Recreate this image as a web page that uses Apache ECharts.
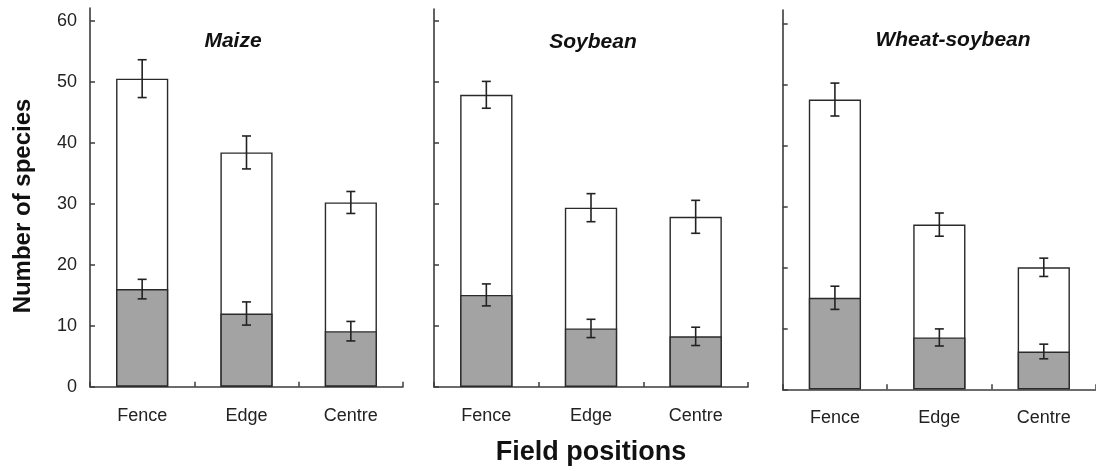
<!DOCTYPE html>
<html>
<head>
<meta charset="utf-8">
<script src="https://cdn.jsdelivr.net/npm/echarts@6/dist/echarts.min.js"></script>
<style>
html,body{margin:0;padding:0;background:#fff;}
#chart{width:1096px;height:471px;}
</style>
</head>
<body>
<div id="chart"></div>
<script>
// ---- data ----
var categories = ['Fence', 'Edge', 'Centre'];
var panelTitles = ['Maize', 'Soybean', 'Wheat-soybean'];
var yTicks = [0, 10, 20, 30, 40, 50, 60];

var maizeTotal = [50.5, 38.4, 30.2];
var maizeTotalErr = [3.1, 2.7, 1.8];
var maizeSub = [16.0, 12.0, 9.1];
var maizeSubErr = [1.6, 1.9, 1.6];

var soyTotal = [47.9, 29.4, 27.9];
var soyTotalErr = [2.2, 2.3, 2.7];
var soySub = [15.1, 9.6, 8.3];
var soySubErr = [1.8, 1.5, 1.5];

var wheatTotal = [47.5, 27.0, 20.0];
var wheatTotalErr = [2.7, 1.9, 1.5];
var wheatSub = [15.0, 8.5, 6.2];
var wheatSubErr = [1.9, 1.4, 1.2];

var panels = [
  {total: maizeTotal, totalErr: maizeTotalErr, sub: maizeSub, subErr: maizeSubErr},
  {total: soyTotal, totalErr: soyTotalErr, sub: soySub, subErr: soySubErr},
  {total: wheatTotal, totalErr: wheatTotalErr, sub: wheatSub, subErr: wheatSubErr}
];

// ---- layout ----
var gridsPos = [
  {left: 90, top: 8, width: 313, height: 378.7, max: 62.08, titleX: 228, titleY: 26},
  {left: 434, top: 9, width: 314, height: 378.3, max: 61.97, titleX: 588, titleY: 27},
  {left: 782.7, top: 10, width: 314, height: 379.3, max: 62.18, titleX: 948, titleY: 25}
];

var font = 'Liberation Sans, Arial, sans-serif';
var axisColor = '#3c3c3c';

var grids = [], xAxes = [], yAxes = [], series = [], titles = [];

function errRenderer(api) {
  var idx = api.value(0);
  var v = api.value(1);
  var e = api.value(2);
  var top = api.coord([idx, v + e]);
  var bot = api.coord([idx, v - e]);
  var cap = 4.5;
  var st = {stroke: '#222', lineWidth: 1.6};
  return {
    type: 'group',
    children: [
      {type: 'line', shape: {x1: top[0], y1: top[1], x2: bot[0], y2: bot[1]}, style: st},
      {type: 'line', shape: {x1: top[0] - cap, y1: top[1], x2: top[0] + cap, y2: top[1]}, style: st},
      {type: 'line', shape: {x1: bot[0] - cap, y1: bot[1], x2: bot[0] + cap, y2: bot[1]}, style: st}
    ]
  };
}

panels.forEach(function (p, i) {
  var g = gridsPos[i];
  grids.push({left: g.left, top: g.top, width: g.width, height: g.height, containLabel: false});
  xAxes.push({
    type: 'category', gridIndex: i, data: categories, boundaryGap: true,
    axisLine: {show: true, lineStyle: {color: axisColor, width: 1.6}},
    axisTick: {show: true, inside: true, length: 5, lineStyle: {color: axisColor, width: 1.5}},
    axisLabel: {show: true, margin: 20, color: '#222', fontSize: 18, fontFamily: font},
    splitLine: {show: false},
    name: i === 1 ? 'Field positions' : '',
    nameLocation: 'middle', nameGap: 52,
    nameTextStyle: {fontSize: 27, fontWeight: 'bold', color: '#111', fontFamily: font}
  });
  yAxes.push({
    type: 'value', gridIndex: i, min: 0, max: g.max,
    axisLine: {show: true, lineStyle: {color: axisColor, width: 1.6}},
    axisTick: {show: true, inside: true, length: 5, customValues: yTicks, lineStyle: {color: axisColor, width: 1.5}},
    axisLabel: {show: i === 0, customValues: yTicks, margin: 13, color: '#222', fontSize: 18, fontFamily: font},
    splitLine: {show: false}
  });
  titles.push({
    text: panelTitles[i], left: g.titleX, top: g.titleY, textAlign: 'center',
    textStyle: {fontSize: 21, fontWeight: 'bold', fontStyle: 'italic', color: '#111', fontFamily: font}
  });
  series.push({
    type: 'bar', xAxisIndex: i, yAxisIndex: i, data: p.total, barWidth: '50%', barGap: '-100%',
    itemStyle: {color: '#ffffff', borderColor: '#2a2a2a', borderWidth: 1.4},
    z: 2, silent: true
  });
  series.push({
    type: 'bar', xAxisIndex: i, yAxisIndex: i, data: p.sub, barWidth: '50%', barGap: '-100%',
    itemStyle: {color: '#a3a3a3', borderColor: '#2a2a2a', borderWidth: 1.4},
    z: 3, silent: true
  });
  series.push({
    type: 'custom', xAxisIndex: i, yAxisIndex: i, renderItem: function (params, api) { return errRenderer(api); },
    data: p.total.map(function (v, k) { return [k, v, p.totalErr[k]]; }), z: 5, silent: true
  });
  series.push({
    type: 'custom', xAxisIndex: i, yAxisIndex: i, renderItem: function (params, api) { return errRenderer(api); },
    data: p.sub.map(function (v, k) { return [k, v, p.subErr[k]]; }), z: 5, silent: true
  });
});

var chart = echarts.init(document.getElementById('chart'), null, {renderer: 'canvas'});
chart.setOption({
  animation: false,
  backgroundColor: '#ffffff',
  title: titles,
  grid: grids,
  xAxis: xAxes,
  yAxis: yAxes,
  series: series,
  graphic: [{
    type: 'text', x: 23, y: 206, rotation: Math.PI / 2,
    style: {text: 'Number of species', fill: '#111', font: 'bold 24px ' + font, align: 'center', verticalAlign: 'middle'}
  }]
});
</script>
</body>
</html>
